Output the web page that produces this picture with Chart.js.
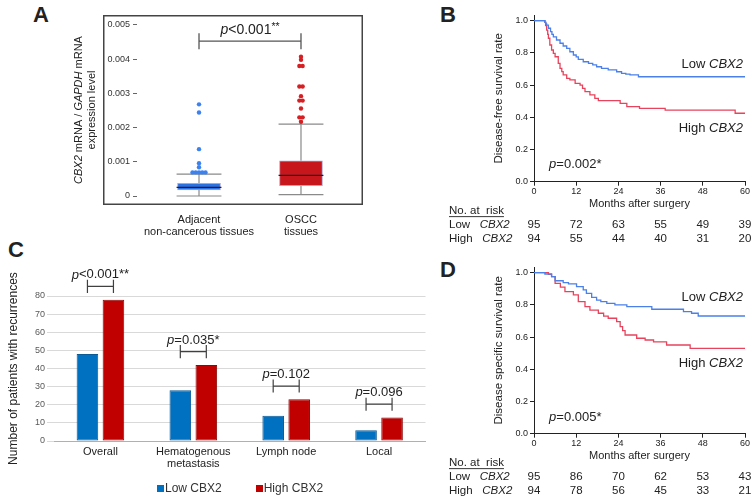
<!DOCTYPE html>
<html>
<head>
<meta charset="utf-8">
<script src="https://cdn.jsdelivr.net/npm/chart.js@4.4.1/dist/chart.umd.min.js"></script>
<style>
  body { margin: 0; width: 756px; height: 504px; position: relative; overflow: hidden; background: #fff;
         font-family: "Liberation Sans", Arial, sans-serif; color: #222; }
  canvas { position: absolute; }
  .letter { position: absolute; font-weight: bold; font-size: 22px; line-height: 22px; }
  #legendC { position: absolute; left: 157px; top: 481px; display: flex; gap: 34px; font-size: 12px; line-height: 14px; color: #333; }
  #legendC span.sw { display: inline-block; width: 7px; height: 7px; margin-right: 1px; vertical-align: 0px; }
</style>
</head>
<body>
<div class="letter" style="left:33px;top:4px">A</div>
<div class="letter" style="left:440px;top:4px">B</div>
<div class="letter" style="left:8px;top:239px">C</div>
<div class="letter" style="left:440px;top:259px">D</div>

<canvas id="chartA" width="380" height="250" style="left:0;top:0"></canvas>
<canvas id="chartC" width="440" height="254" style="left:0;top:250px"></canvas>
<canvas id="chartB" width="316" height="250" style="left:440px;top:0"></canvas>
<canvas id="chartD" width="316" height="252" style="left:440px;top:252px"></canvas>
<div id="legendC"></div>

<script>
// ---- A: CBX2 expression box plot
const aGroups = [['Adjacent', 'non-cancerous tissues'], ['OSCC', 'tissues']];
const aLowerWhisker = [0, 0.00004];
const aQ1 = [0.000175, 0.0003];
const aMedian = [0.000254, 0.000605];
const aQ3 = [0.00037, 0.00103];
const aUpperWhisker = [0.00064, 0.0021];
const aOutliers = [
  [0.00069, 0.00069, 0.00069, 0.00069, 0.00069, 0.00084, 0.00096, 0.00137, 0.00244, 0.00268],
  [0.00217, 0.0023, 0.0023, 0.00256, 0.00279, 0.00279, 0.00292, 0.0032, 0.0032, 0.0038, 0.0038, 0.00398, 0.00407]
];
const aYTicks = [0, 0.001, 0.002, 0.003, 0.004, 0.005];
const aYTickLabels = ['0', '0.001', '0.002', '0.003', '0.004', '0.005'];

// ---- B / D: Kaplan-Meier curves
const kmXTicks = [0, 12, 24, 36, 48, 60];
const kmYTicks = [0, 0.2, 0.4, 0.6, 0.8, 1.0];
const kmYTickLabels = ['0.0', '0.2', '0.4', '0.6', '0.8', '1.0'];

const bLowMonths = [0, 3.1, 3.4, 3.6, 4.1, 4.7, 5.1, 5.5, 6.4, 7.4, 8.3, 9.3, 10.2, 11.2, 12.0, 12.6, 14.0, 15.5, 16.7, 17.8, 19.2, 21.1, 23.5, 24.9, 26.1, 27.3, 29.7, 60];
const bLowSurv   = [1.0, 0.99, 0.98, 0.973, 0.953, 0.932, 0.915, 0.90, 0.88, 0.86, 0.843, 0.828, 0.807, 0.787, 0.775, 0.76, 0.745, 0.735, 0.725, 0.714, 0.704, 0.694, 0.683, 0.673, 0.668, 0.663, 0.652, 0.652];
const bHighMonths = [0, 3.1, 3.3, 3.6, 3.9, 4.1, 4.5, 5.0, 5.5, 6.0, 6.9, 7.4, 7.9, 8.3, 9.3, 10.2, 11.7, 13.1, 13.8, 14.5, 15.9, 17.3, 18.3, 24.5, 26.4, 30.0, 37.3, 57.2, 60];
const bHighSurv   = [1.0, 0.99, 0.97, 0.942, 0.915, 0.891, 0.849, 0.818, 0.797, 0.776, 0.735, 0.704, 0.684, 0.663, 0.642, 0.632, 0.611, 0.60, 0.58, 0.559, 0.539, 0.518, 0.503, 0.487, 0.466, 0.456, 0.445, 0.425, 0.425];
const bRiskLow  = [95, 72, 63, 55, 49, 39];
const bRiskHigh = [94, 55, 44, 40, 31, 20];

const dLowMonths = [0, 3.1, 5.0, 6.0, 8.3, 9.8, 12.1, 14.0, 14.9, 16.4, 17.8, 19.0, 20.7, 23.0, 26.4, 33.5, 42.5, 44.8, 46.7, 60];
const dLowSurv   = [1.0, 0.992, 0.975, 0.95, 0.938, 0.93, 0.913, 0.893, 0.872, 0.847, 0.83, 0.82, 0.81, 0.80, 0.789, 0.773, 0.758, 0.748, 0.731, 0.731];
const dHighMonths = [0, 4.1, 5.0, 6.0, 7.5, 8.8, 11.2, 12.6, 14.5, 15.9, 18.3, 19.8, 21.1, 23.5, 24.5, 25.2, 25.9, 29.2, 31.6, 34.0, 37.7, 44.4, 60];
const dHighSurv   = [1.0, 0.99, 0.975, 0.934, 0.91, 0.882, 0.862, 0.82, 0.789, 0.768, 0.748, 0.73, 0.717, 0.696, 0.665, 0.64, 0.613, 0.593, 0.582, 0.57, 0.551, 0.53, 0.53];
const dRiskLow  = [95, 86, 70, 62, 53, 43];
const dRiskHigh = [94, 78, 56, 45, 33, 21];

// ---- C: recurrences
const cCategories = ['Overall', ['Hematogenous', 'metastasis'], 'Lymph node', 'Local'];
const cSeries = ['Low CBX2', 'High CBX2'];
const cLow  = [48, 28, 14, 6];
const cHigh = [78, 42, 23, 13];
const cPValues = [['<', '0.001**'], ['=', '0.035*'], ['=', '0.102'], ['=', '0.096']];
const cYTicks = [0, 10, 20, 30, 40, 50, 60, 70, 80];

const FONT = '"Liberation Sans", Arial, sans-serif';
Chart.defaults.font.family = FONT;
Chart.defaults.color = '#222';
Chart.defaults.animation = false;
Chart.defaults.plugins.legend.display = false;
Chart.defaults.plugins.tooltip.enabled = false;

function drawRich(ctx, parts, x, y, align, size) {
  const fontOf = p => (p.i ? 'italic ' : '') + (size * (p.s || 1)) + 'px ' + FONT;
  let total = 0;
  parts.forEach(p => { ctx.font = fontOf(p); total += ctx.measureText(p.t).width; });
  let cx = align === 'center' ? x - total / 2 : (align === 'right' ? x - total : x);
  ctx.textAlign = 'left';
  ctx.textBaseline = 'middle';
  parts.forEach(p => {
    ctx.font = fontOf(p);
    ctx.fillText(p.t, cx, y + (p.dy || 0));
    cx += ctx.measureText(p.t).width;
  });
  return total;
}
const fixWidth = w => scale => { scale.width = w; };
const fixHeight = h => scale => { scale.height = h; };
const setTicks = vals => scale => { scale.ticks = vals.map(v => ({value: v})); };

// ---------- Panel A
const capHalf = 0.22;
const gap = x => ({x: x, y: null});
const aWhiskers = [], aMedianLine = [];
aGroups.forEach((g, i) => {
  const cx = i + 1;
  aWhiskers.push({x: cx, y: aQ3[i]}, {x: cx, y: aUpperWhisker[i]}, gap(cx),
    {x: cx - capHalf, y: aUpperWhisker[i]}, {x: cx + capHalf, y: aUpperWhisker[i]}, gap(cx),
    {x: cx, y: aLowerWhisker[i]}, {x: cx, y: aQ1[i]}, gap(cx),
    {x: cx - capHalf, y: aLowerWhisker[i]}, {x: cx + capHalf, y: aLowerWhisker[i]}, gap(cx));
  aMedianLine.push({x: cx - capHalf, y: aMedian[i]}, {x: cx + capHalf, y: aMedian[i]}, gap(cx));
});
function spread(values, center) {
  const counts = {}, seen = {};
  values.forEach(v => { counts[v] = (counts[v] || 0) + 1; });
  return values.map(v => {
    const k = seen[v] || 0; seen[v] = k + 1;
    return {x: center + (k - (counts[v] - 1) / 2) * 0.032, y: v};
  });
}
const bracketA = [{x: 1, y: 0.00476}, {x: 1, y: 0.00429}, gap(1), {x: 1, y: 0.00453}, {x: 2, y: 0.00453}, gap(2), {x: 2, y: 0.00476}, {x: 2, y: 0.00429}];

new Chart('chartA', {
  type: 'bar',
  data: {
    datasets: [
      {type: 'line', data: aWhiskers, borderColor: '#8a8a8a', borderWidth: 1.2, pointRadius: 0, spanGaps: false, order: 5},
      {type: 'bar', data: aGroups.map((g, i) => ({x: i + 1, y: [aQ1[i], aQ3[i]]})),
       backgroundColor: ['#2a72e4', '#c8161d'], borderColor: '#a9a5d6', borderWidth: 1, borderSkipped: false,
       barThickness: 43, order: 4},
      {type: 'line', data: aMedianLine, borderColor: '#1c1c30', borderWidth: 1.2, pointRadius: 0, spanGaps: false, order: 3},
      {type: 'scatter', data: spread(aOutliers[0], 1), pointRadius: 2.2, pointBackgroundColor: '#3b82f0', pointBorderWidth: 0, order: 2},
      {type: 'scatter', data: spread(aOutliers[1], 2), pointRadius: 2.2, pointBackgroundColor: '#d61f23', pointBorderWidth: 0, order: 2},
      {type: 'line', data: bracketA, borderColor: '#555', borderWidth: 1.3, pointRadius: 0, spanGaps: false, clip: false, order: 1}
    ]
  },
  options: {
    responsive: false,
    layout: {padding: {top: 15, right: 17, bottom: 10, left: 0}},
    scales: {
      x: {type: 'linear', min: 0.392, max: 2.608, offset: false,
          grid: {display: false, drawTicks: false}, border: {display: false},
          afterBuildTicks: setTicks([1, 2]), afterFit: fixHeight(35),
          ticks: {padding: 9, font: {size: 11, lineHeight: 1.1}, color: '#222',
                  callback: (v, i) => aGroups[i]}},
      y: {min: -0.000263, max: 0.005292,
          grid: {drawOnChartArea: false, drawTicks: true, tickLength: 4, color: '#666'}, border: {display: false},
          afterBuildTicks: setTicks(aYTicks), afterFit: fixWidth(137),
          ticks: {padding: 3, font: {size: 9}, color: '#333', callback: (v, i) => aYTickLabels[i]}}
    }
  },
  plugins: [{
    id: 'aText',
    afterDraw(chart) {
      const {ctx, chartArea: ca, scales: {x, y}} = chart;
      ctx.save();
      ctx.strokeStyle = '#444'; ctx.lineWidth = 1.5;
      ctx.strokeRect(ca.left - 34 + 0.75, ca.top + 0.75, ca.right - ca.left + 34 - 1.5, ca.bottom - ca.top - 1.5);
      ctx.fillStyle = '#222';
      drawRich(ctx, [{t: 'p', i: true}, {t: '<0.001'}, {t: '**', s: 0.75, dy: -3}], x.getPixelForValue(1.5), y.getPixelForValue(0.00485), 'center', 14);
      ctx.translate(ca.left - 58, (ca.top + ca.bottom) / 2);
      ctx.rotate(-Math.PI / 2);
      drawRich(ctx, [{t: 'CBX2', i: true}, {t: ' mRNA / '}, {t: 'GAPDH', i: true}, {t: ' mRNA'}], 0, 0, 'center', 11);
      drawRich(ctx, [{t: 'expression level'}], 0, 13, 'center', 11);
      ctx.restore();
    }
  }]
});

// ---------- Panels B and D
function kmChart(id, lowM, lowS, highM, highS, riskLow, riskHigh, yTitle, pValue, pos) {
  const toPts = (m, s) => m.map((v, i) => ({x: v, y: s[i]}));
  new Chart(id, {
    type: 'line',
    data: {
      datasets: [
        {data: toPts(lowM, lowS), borderColor: '#4a80e8', borderWidth: 1.3, pointRadius: 0, stepped: 'before'},
        {data: toPts(highM, highS), borderColor: '#e8435c', borderWidth: 1.3, pointRadius: 0, stepped: 'before'}
      ]
    },
    options: {
      responsive: false,
      layout: {padding: {top: 15 + pos.shift, right: 11, bottom: pos.bottomPad, left: 0}},
      scales: {
        x: {type: 'linear', min: 0, max: 60,
            grid: {drawOnChartArea: false, tickLength: 4, color: '#222'}, border: {color: '#222', width: 1},
            afterBuildTicks: setTicks(kmXTicks), afterFit: fixHeight(28.6),
            ticks: {padding: 0, font: {size: 9}, color: '#222'},
            title: {display: true, text: 'Months after surgery', font: {size: 11}, color: '#222', padding: 0}},
        y: {min: 0, max: 1.0354,
            grid: {drawOnChartArea: false, tickLength: 4, color: '#222'}, border: {color: '#222', width: 1},
            afterBuildTicks: setTicks(kmYTicks), afterFit: fixWidth(94),
            ticks: {padding: 2, font: {size: 9}, color: '#222', callback: (v, i) => kmYTickLabels[i]},
            title: {display: true, text: yTitle, font: {size: 11.5}, color: '#222', padding: {top: 52, bottom: 0}}}
      }
    },
    plugins: [{
      id: 'kmText',
      afterDraw(chart) {
        const {ctx, chartArea: ca, scales: {x, y}} = chart;
        ctx.save();
        ctx.fillStyle = '#222';
        const xEnd = x.getPixelForValue(60) - 2;
        drawRich(ctx, [{t: 'Low '}, {t: 'CBX2', i: true}], xEnd, y.getPixelForValue(pos.low), 'right', 13);
        drawRich(ctx, [{t: 'High '}, {t: 'CBX2', i: true}], xEnd, y.getPixelForValue(pos.high), 'right', 13);
        drawRich(ctx, [{t: 'p', i: true}, {t: pValue}], x.getPixelForValue(4.3), y.getPixelForValue(pos.p), 'left', 13);
        // numbers at risk
        const left = ca.left - 85, b = ca.bottom;
        const w = drawRich(ctx, [{t: 'No. at  risk'}], left, b + 29.3, 'left', 11.5);
        ctx.fillRect(left, b + 34.5, w, 0.9);
        drawRich(ctx, [{t: 'Low   '}, {t: 'CBX2', i: true}], left, b + 43.3, 'left', 11.5);
        drawRich(ctx, [{t: 'High   '}, {t: 'CBX2', i: true}], left, b + 57.3, 'left', 11.5);
        kmXTicks.forEach((m, k) => {
          const px = x.getPixelForValue(m);
          drawRich(ctx, [{t: String(riskLow[k])}], px, b + 43.3, 'center', 11.5);
          drawRich(ctx, [{t: String(riskHigh[k])}], px, b + 57.3, 'center', 11.5);
        });
        ctx.restore();
      }
    }]
  });
}
kmChart('chartB', bLowMonths, bLowSurv, bHighMonths, bHighSurv, bRiskLow, bRiskHigh,
        'Disease-free survival rate', '=0.002*', {shift: 0, bottomPad: 39.7, low: 0.731, high: 0.333, p: 0.11});
kmChart('chartD', dLowMonths, dLowSurv, dHighMonths, dHighSurv, dRiskLow, dRiskHigh,
        'Disease specific survival rate', '=0.005*', {shift: 0, bottomPad: 41.7, low: 0.849, high: 0.439, p: 0.104});

// ---------- Panel C
const cColors = ['#0070c0', '#c00000'];
const cBorders = ['#0b5a96', '#8e0a0a'];
new Chart('chartC', {
  type: 'bar',
  data: {
    labels: cCategories,
    datasets: [cLow, cHigh].map((vals, k) => ({
      label: cSeries[k], data: vals, backgroundColor: cColors[k], borderColor: cBorders[k], borderWidth: 1,
      borderSkipped: false, categoryPercentage: 0.56, barPercentage: 0.83
    }))
  },
  options: {
    responsive: false,
    layout: {padding: {top: 46, right: 14.5, bottom: 28, left: 0}},
    scales: {
      x: {grid: {display: false, drawTicks: false}, border: {color: '#b0b0b0', width: 1},
          afterFit: fixHeight(35),
          ticks: {padding: 5, font: {size: 11, lineHeight: 1.1}, color: '#222'}},
      y: {min: 0, max: 80,
          grid: {color: '#d9d9d9', tickLength: 7}, border: {display: false},
          afterBuildTicks: setTicks(cYTicks), afterFit: fixWidth(54),
          ticks: {padding: 2, font: {size: 9}, color: '#595959'},
          title: {display: true, text: 'Number of patients with recurrences', font: {size: 12}, color: '#222', padding: {top: 6, bottom: 0}}}
    }
  },
  plugins: [{
    id: 'cBrackets',
    afterDraw(chart) {
      const {ctx, scales: {y}} = chart;
      const m0 = chart.getDatasetMeta(0), m1 = chart.getDatasetMeta(1);
      ctx.save();
      ctx.strokeStyle = '#404040'; ctx.lineWidth = 1.2; ctx.fillStyle = '#222';
      cCategories.forEach((c, i) => {
        const x1 = m0.data[i].x, x2 = m1.data[i].x;
        const top = Math.max(cLow[i], cHigh[i]) + 7.3;
        const yb = y.getPixelForValue(top), ya = y.getPixelForValue(top + 3.6), yc = y.getPixelForValue(top - 3.6);
        ctx.beginPath();
        ctx.moveTo(x1, ya); ctx.lineTo(x1, yc);
        ctx.moveTo(x1, yb); ctx.lineTo(x2, yb);
        ctx.moveTo(x2, ya); ctx.lineTo(x2, yc);
        ctx.stroke();
        drawRich(ctx, [{t: 'p', i: true}, {t: cPValues[i][0] + cPValues[i][1]}], (x1 + x2) / 2, yb - 11.5, 'center', 13);
      });
      ctx.restore();
    }
  }]
});

// legend for C built from the series names
const legendC = document.getElementById('legendC');
cSeries.forEach((name, k) => {
  const item = document.createElement('div');
  item.innerHTML = '<span class="sw" style="background:' + cColors[k] + '"></span>' + name;
  legendC.appendChild(item);
});
</script>
</body>
</html>
